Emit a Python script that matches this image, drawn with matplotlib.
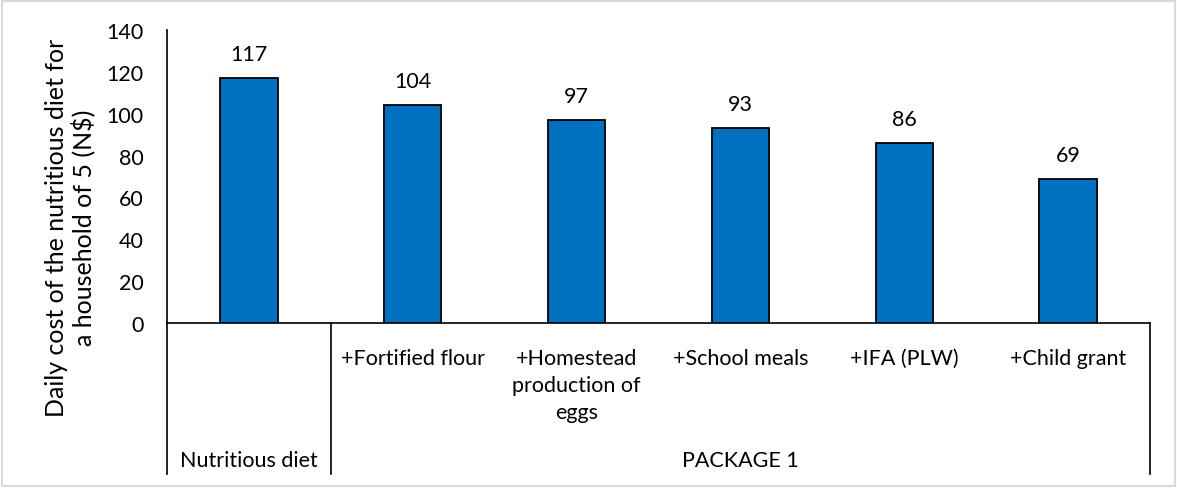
import matplotlib
matplotlib.use('Agg')
import matplotlib.pyplot as plt
from matplotlib.patches import Rectangle

# daily cost (N$) for each step of the package
categories = ['', '+Fortified flour', '+Homestead\nproduction of\neggs',
              '+School meals', '+IFA (PLW)', '+Child grant']
costs = [117, 104, 97, 93, 86, 69]
# outer category level: (name, first index, last index)
groups = [('Nutritious diet', 0, 0), ('PACKAGE 1', 1, 5)]
yticks = [0, 20, 40, 60, 80, 100, 120, 140]

plt.rcParams['font.family'] = ['Lato', 'DejaVu Sans']
FS = 15.5
W, H = 1177, 489
fig = plt.figure(figsize=(W / 100, H / 100), dpi=100)

x0, x1, y0, y1 = 167, 1150, 324, 31
ax = fig.add_axes([x0 / W, (H - y0) / H, (x1 - x0) / W, (y0 - y1) / H])

pos = [i + 0.5 for i in range(len(costs))]
bars = ax.bar(pos, costs, width=0.35, color='#0070C0', edgecolor='black', linewidth=1.3, zorder=3)
for b, v in zip(bars, costs):
    ax.annotate(str(v), (b.get_x() + b.get_width() / 2, v), xytext=(0, 10),
                textcoords='offset points', ha='center', va='bottom', fontsize=FS)

ax.set_xlim(0, len(costs))
ax.set_ylim(0, 140)
ax.set_yticks(yticks)
ax.set_xticks([])
ax.tick_params(axis='y', length=0, pad=17, labelsize=FS)
for s in ['top', 'right']:
    ax.spines[s].set_visible(False)
for s in ['left', 'bottom']:
    ax.spines[s].set_color('black')
    ax.spines[s].set_linewidth(1.2)

# multi-level category axis below the plot
tr = ax.get_xaxis_transform()
depth = -(475 - y0) / (y0 - y1)
row1 = -(349 - y0) / (y0 - y1)
row2 = -(461 - y0) / (y0 - y1)
for p, c in zip(pos, categories):
    ax.text(p, row1, c, transform=tr, ha='center', va='top', fontsize=FS, linespacing=1.45)
for name, a, b in groups:
    ax.text((a + b + 1) / 2, row2, name, transform=tr, ha='center', va='center', fontsize=FS)
bounds = sorted({g[1] for g in groups} | {g[2] + 1 for g in groups})
for xb in bounds:
    ax.plot([xb, xb], [0, depth], transform=tr, color='black', lw=1.2, clip_on=False)

fig.text(70 / W, 1 - 228 / H, 'Daily cost of the nutritious diet for\na household of 5 (N$)',
         rotation=90, ha='center', va='center', fontsize=18, linespacing=1.15)

fig.patches.append(Rectangle((2 / W, 2 / H), (W - 4) / W, (H - 4) / H, transform=fig.transFigure,
                             fill=False, edgecolor='#d9d9d9', linewidth=1.5))

fig.savefig('out.png', dpi=100)
